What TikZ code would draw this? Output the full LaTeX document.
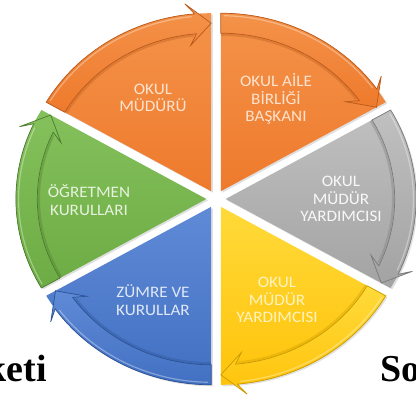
\documentclass[tikz,border=0pt]{standalone}
\usepackage{fontspec}
\setmainfont{Carlito}
\newfontfamily\serifb{Liberation Serif}
\definecolor{orB}{HTML}{EE7A2C}\definecolor{orL}{HTML}{F4934A}\definecolor{orD}{HTML}{B85A1C}\definecolor{orT}{HTML}{FDE3CF}
\definecolor{grB}{HTML}{A3A3A3}\definecolor{grL}{HTML}{C0C0C0}\definecolor{grD}{HTML}{7A7A7A}\definecolor{grT}{HTML}{F8F8F8}
\definecolor{yeB}{HTML}{FFC30A}\definecolor{yeL}{HTML}{FFDA3A}\definecolor{yeD}{HTML}{C99A00}\definecolor{yeT}{HTML}{FFF3BF}
\definecolor{blB}{HTML}{4270C2}\definecolor{blL}{HTML}{5F8AD6}\definecolor{blD}{HTML}{2C5194}\definecolor{blT}{HTML}{E0E8F6}
\definecolor{gnB}{HTML}{6DAB44}\definecolor{gnL}{HTML}{84C15C}\definecolor{gnD}{HTML}{4C7A2E}\definecolor{gnT}{HTML}{E6F2DD}
\tikzset{
  lbl/.style={align=center, xscale=1.07, font=\fontsize{16}{17.5}\selectfont, inner sep=0pt},
  big/.style={font=\serifb\bfseries\fontsize{38}{40}\selectfont, text=black, inner sep=0pt}
}
\newcommand\dd{9}
\newcommand\RR{178}
% #1 start angle, #2 base, #3 light, #4 dark
\newcommand\mysegment[4]{%
  \begin{scope}[shift={({#1+30}:\dd)}]
    \fill[black, opacity=0.12] (1.5,-1.5) -- +(#1:\RR) arc[start angle=#1, end angle=#1+60, radius=\RR] -- cycle;
    \shade[top color=#3, bottom color=#2] (0,0) -- (#1:\RR) arc[start angle=#1, end angle=#1+60, radius=\RR] -- cycle;
    \draw[#4, opacity=0.35, line width=2.2] ({#1+60}:156.5) arc[start angle={#1+60}, end angle={#1+6}, radius=156.5];
    \shadedraw[draw=#4, line width=0.7, top color=#3, bottom color=#2]
      ({#1+60}:178) arc[start angle={#1+60}, end angle={#1+5}, radius=178]
      -- ({#1+7.5}:189) -- (#1:168) -- ({#1+7.5}:147) -- ({#1+5}:158)
      arc[start angle={#1+5}, end angle={#1+60}, radius=158] -- cycle;
    \draw[white, opacity=0.35, line width=1.2] ({#1+59}:175.5) arc[start angle={#1+59}, end angle={#1+6}, radius=175.5];
  \end{scope}}
\begin{document}
\begin{tikzpicture}[x=1pt,y=1pt]
\useasboundingbox (0,0) rectangle (416,401);
\fill[white] (0,0) rectangle (416,401);
\begin{scope}[shift={(216,202)}, xscale=1.07]
  \mysegment{30}{orB}{orL}{orD}
  \mysegment{90}{orB}{orL}{orD}
  \mysegment{150}{gnB}{gnL}{gnD}
  \mysegment{210}{blB}{blL}{blD}
  \mysegment{270}{yeB}{yeL}{yeD}
  \mysegment{330}{grB}{grL}{grD}
\end{scope}
\node[lbl, text=orT] (tl) at (153,303) {OKUL\\MÜDÜRÜ};
\node[lbl, text=orT] (tr) at (276,302) {OKUL AİLE\\BİRLİĞİ\\BAŞKANI};
\node[lbl, text=grT] (gy) at (341,202) {OKUL\\MÜDÜR\\YARDIMCISI};
\node[lbl, text=yeT] (ye) at (277,101) {OKUL\\MÜDÜR\\YARDIMCISI};
\node[lbl, text=blT] (bl) at (153,101) {ZÜMRE VE\\KURULLAR};
\node[lbl, text=gnT] (gn) at (89,201) {ÖĞRETMEN\\KURULLARI};
\node[big, anchor=base east] (k) at (47,19) {keti};
\node[big, anchor=base west] (s) at (380,19) {So};
\end{tikzpicture}
\end{document}
